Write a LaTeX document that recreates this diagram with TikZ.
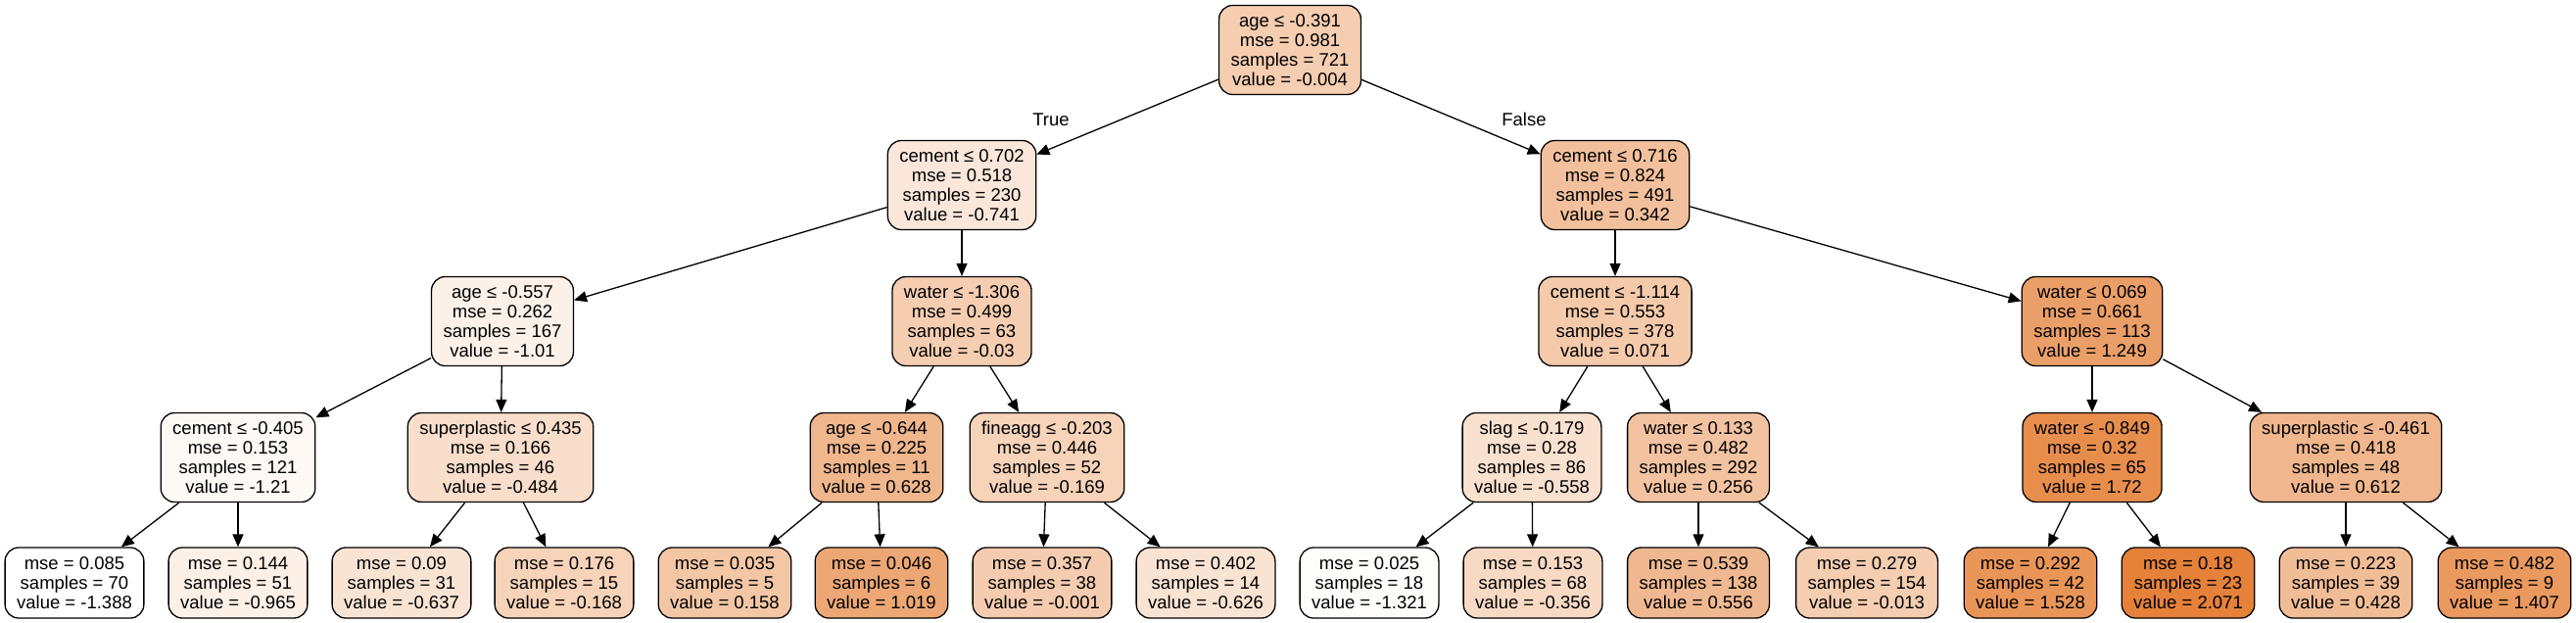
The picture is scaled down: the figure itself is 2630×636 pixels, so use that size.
\documentclass[tikz,border=0pt]{standalone}
\usepackage{fontspec}
\setmainfont{Liberation Sans}
\usetikzlibrary{arrows.meta}
\definecolor{sk}{RGB}{229,129,57}
\begin{document}
\begin{tikzpicture}[x=1pt,y=-1pt,
  tn/.style={draw=black, line width=1.3pt, rounded corners=14pt, align=center,
    font=\fontsize{18.5}{20}\selectfont, inner xsep=12pt, inner ysep=0pt, minimum height=91pt},
  lf/.style={tn, minimum height=72pt},
  ed/.style={line width=1.3pt, -{Triangle[length=13pt,width=11pt]}},
  lbl/.style={font=\fontsize{18.5}{20}\selectfont}]
\useasboundingbox (0,0) rectangle (2630,636);
% root
\node[tn, fill=sk!40!white] (n0) at (1317,51) {age ≤ -0.391\\mse = 0.981\\samples = 721\\value = -0.004};
% level 1
\node[tn, fill=sk!18.7!white] (n1) at (982,189) {cement ≤ 0.702\\mse = 0.518\\samples = 230\\value = -0.741};
\node[tn, fill=sk!50!white] (n2) at (1649,189) {cement ≤ 0.716\\mse = 0.824\\samples = 491\\value = 0.342};
% level 2
\node[tn, fill=sk!10.9!white] (n3) at (513,328) {age ≤ -0.557\\mse = 0.262\\samples = 167\\value = -1.01};
\node[tn, fill=sk!39.3!white] (n4) at (982,328) {water ≤ -1.306\\mse = 0.499\\samples = 63\\value = -0.03};
\node[tn, fill=sk!42.2!white] (n5) at (1649,328) {cement ≤ -1.114\\mse = 0.553\\samples = 378\\value = 0.071};
\node[tn, fill=sk!76.2!white] (n6) at (2136,328) {water ≤ 0.069\\mse = 0.661\\samples = 113\\value = 1.249};
% level 3
\node[tn, fill=sk!5.1!white] (n7) at (243,467) {cement ≤ -0.405\\mse = 0.153\\samples = 121\\value = -1.21};
\node[tn, fill=sk!26.1!white] (n8) at (511,467) {superplastic ≤ 0.435\\mse = 0.166\\samples = 46\\value = -0.484};
\node[tn, fill=sk!58.3!white] (n9) at (895,467) {age ≤ -0.644\\mse = 0.225\\samples = 11\\value = 0.628};
\node[tn, fill=sk!35.2!white] (n10) at (1069,467) {fineagg ≤ -0.203\\mse = 0.446\\samples = 52\\value = -0.169};
\node[tn, fill=sk!24!white] (n11) at (1564,467) {slag ≤ -0.179\\mse = 0.28\\samples = 86\\value = -0.558};
\node[tn, fill=sk!47.5!white] (n12) at (1734,467) {water ≤ 0.133\\mse = 0.482\\samples = 292\\value = 0.256};
\node[tn, fill=sk!89.9!white] (n13) at (2136,467) {water ≤ -0.849\\mse = 0.32\\samples = 65\\value = 1.72};
\node[tn, fill=sk!57.8!white] (n14) at (2395,467) {superplastic ≤ -0.461\\mse = 0.418\\samples = 48\\value = 0.612};
% leaves
\node[lf, fill=white] (l1) at (76,595) {mse = 0.085\\samples = 70\\value = -1.388};
\node[lf, fill=sk!12.2!white] (l2) at (243,595) {mse = 0.144\\samples = 51\\value = -0.965};
\node[lf, fill=sk!21.7!white] (l3) at (410,595) {mse = 0.09\\samples = 31\\value = -0.637};
\node[lf, fill=sk!35.3!white] (l4) at (576,595) {mse = 0.176\\samples = 15\\value = -0.168};
\node[lf, fill=sk!44.7!white] (l5) at (740,595) {mse = 0.035\\samples = 5\\value = 0.158};
\node[lf, fill=sk!69.6!white] (l6) at (900,595) {mse = 0.046\\samples = 6\\value = 1.019};
\node[lf, fill=sk!40.1!white] (l7) at (1064,595) {mse = 0.357\\samples = 38\\value = -0.001};
\node[lf, fill=sk!22!white] (l8) at (1231,595) {mse = 0.402\\samples = 14\\value = -0.626};
\node[lf, fill=sk!1.9!white] (l9) at (1398,595) {mse = 0.025\\samples = 18\\value = -1.321};
\node[lf, fill=sk!29.8!white] (l10) at (1565,595) {mse = 0.153\\samples = 68\\value = -0.356};
\node[lf, fill=sk!56.2!white] (l11) at (1734,595) {mse = 0.539\\samples = 138\\value = 0.556};
\node[lf, fill=sk!39.8!white] (l12) at (1906,595) {mse = 0.279\\samples = 154\\value = -0.013};
\node[lf, fill=sk!84.3!white] (l13) at (2073,595) {mse = 0.292\\samples = 42\\value = 1.528};
\node[lf, fill=sk!100!white] (l14) at (2234,595) {mse = 0.18\\samples = 23\\value = 2.071};
\node[lf, fill=sk!52.5!white] (l15) at (2395,595) {mse = 0.223\\samples = 39\\value = 0.428};
\node[lf, fill=sk!80.8!white] (l16) at (2557,595) {mse = 0.482\\samples = 9\\value = 1.407};
% edges
\draw[ed] (n0) -- (n1);
\draw[ed] (n0) -- (n2);
\draw[ed] (n1) -- (n3);
\draw[ed] (n1) -- (n4);
\draw[ed] (n2) -- (n5);
\draw[ed] (n2) -- (n6);
\draw[ed] (n3) -- (n7);
\draw[ed] (n3) -- (n8);
\draw[ed] (n4) -- (n9);
\draw[ed] (n4) -- (n10);
\draw[ed] (n5) -- (n11);
\draw[ed] (n5) -- (n12);
\draw[ed] (n6) -- (n13);
\draw[ed] (n6) -- (n14);
\draw[ed] (n7) -- (l1);
\draw[ed] (n7) -- (l2);
\draw[ed] (n8) -- (l3);
\draw[ed] (n8) -- (l4);
\draw[ed] (n9) -- (l5);
\draw[ed] (n9) -- (l6);
\draw[ed] (n10) -- (l7);
\draw[ed] (n10) -- (l8);
\draw[ed] (n11) -- (l9);
\draw[ed] (n11) -- (l10);
\draw[ed] (n12) -- (l11);
\draw[ed] (n12) -- (l12);
\draw[ed] (n13) -- (l13);
\draw[ed] (n13) -- (l14);
\draw[ed] (n14) -- (l15);
\draw[ed] (n14) -- (l16);
% edge labels
\node[lbl] (tl) at (1073,122) {True};
\node[lbl] (fl) at (1556,122) {False};
\end{tikzpicture}
\end{document}
